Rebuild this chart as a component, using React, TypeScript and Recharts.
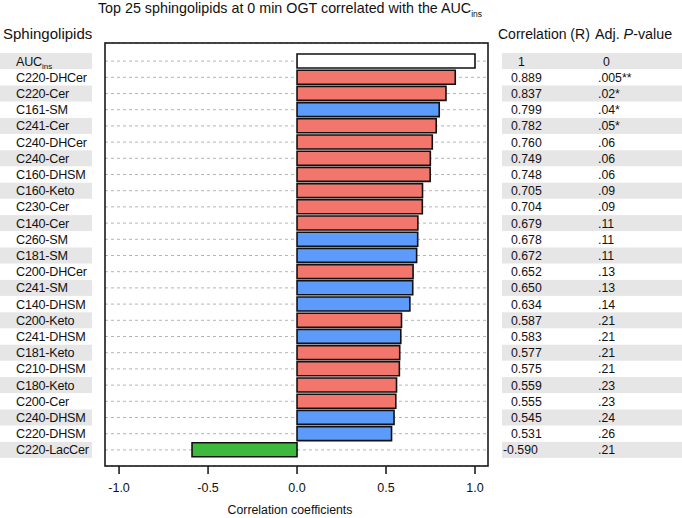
import React from "react";
import { BarChart, Bar, XAxis, YAxis, CartesianGrid, Cell } from "recharts";

const names = [
  "AUC_ins", "C220-DHCer", "C220-Cer", "C161-SM", "C241-Cer", "C240-DHCer", "C240-Cer",
  "C160-DHSM", "C160-Keto", "C230-Cer", "C140-Cer", "C260-SM", "C181-SM", "C200-DHCer",
  "C241-SM", "C140-DHSM", "C200-Keto", "C241-DHSM", "C181-Keto", "C210-DHSM", "C180-Keto",
  "C200-Cer", "C240-DHSM", "C220-DHSM", "C220-LacCer",
];
const values = [
  1, 0.889, 0.837, 0.799, 0.782, 0.76, 0.749, 0.748, 0.705, 0.704, 0.679, 0.678, 0.672,
  0.652, 0.65, 0.634, 0.587, 0.583, 0.577, 0.575, 0.559, 0.555, 0.545, 0.531, -0.59,
];
const rLabels = [
  "1", "0.889", "0.837", "0.799", "0.782", "0.760", "0.749", "0.748", "0.705", "0.704",
  "0.679", "0.678", "0.672", "0.652", "0.650", "0.634", "0.587", "0.583", "0.577", "0.575",
  "0.559", "0.555", "0.545", "0.531", "-0.590",
];
const pLabels = [
  "0", ".005**", ".02*", ".04*", ".05*", ".06", ".06", ".06", ".09", ".09", ".11", ".11",
  ".11", ".13", ".13", ".14", ".21", ".21", ".21", ".21", ".23", ".23", ".24", ".26", ".21",
];
const groups = [
  "ref", "cer", "cer", "sm", "cer", "cer", "cer", "cer", "cer", "cer", "cer", "sm", "sm",
  "cer", "sm", "sm", "cer", "sm", "cer", "cer", "cer", "cer", "sm", "sm", "lac",
];
const xTicks = [-1, -0.5, 0, 0.5, 1];

const COLORS: Record<string, string> = {
  ref: "#FFFFFF",
  cer: "#F2766B",
  sm: "#5C9BFA",
  lac: "#3DBA3D",
};
const FONT = "'Liberation Sans', Arial, Helvetica, sans-serif";
const SHADE = "#E6E6E6";

const data = names.map((n, i) => ({ name: n, value: values[i], group: groups[i] }));

const RowTick = (props: any) => {
  const { y, payload } = props;
  const i = names.indexOf(payload.value);
  const shade = i % 2 === 0;
  const [main, sub] = String(payload.value).split("_");
  const r = rLabels[i];
  const p = pLabels[i];
  const rx = r.startsWith("-") ? 503 : r === "1" ? 518 : 511;
  const px = p.startsWith(".") ? 598 : 603;
  return (
    <g fontFamily={FONT} fill="#111">
      {shade && <rect x={0} y={y - 8} width={92} height={16} fill={SHADE} />}
      {shade && <rect x={502} y={y - 8} width={180} height={16} fill={SHADE} />}
      <text x={16} y={y} dy="0.36em" fontSize={12.6} letterSpacing={-0.2} fill="#111">
        {main}
        {sub && (
          <tspan fontSize={8} dy="0.45em" letterSpacing={0}>
            {sub}
          </tspan>
        )}
      </text>
      <text x={rx} y={y} dy="0.36em" fontSize={12.3} fill="#111">
        {r}
      </text>
      <text x={px} y={y} dy="0.36em" fontSize={12.3} fill="#111">
        {p}
      </text>
    </g>
  );
};

export default function App() {
  return (
    <div style={{ position: "absolute", left: 0, top: 0, width: 682, height: 518, background: "#fff" }}>
      <BarChart
        width={682}
        height={518}
        data={data}
        layout="vertical"
        margin={{ top: 43, right: 194, bottom: 22, left: 5 }}
        barSize={14}
      >
        <CartesianGrid horizontal vertical={false} stroke="#B4B4B4" strokeDasharray="3 3" />
        <XAxis
          type="number"
          dataKey="value"
          domain={[-1.079, 1.073]}
          allowDataOverflow
          ticks={xTicks}
          tickFormatter={(v: number) => v.toFixed(1)}
          axisLine={false}
          tickLine={{ stroke: "#111", strokeWidth: 1.5 }}
          tickSize={8}
          tickMargin={9}
          height={30}
          tick={{ fontSize: 12.5, fill: "#111", fontFamily: FONT }}
        />
        <YAxis
          type="category"
          dataKey="name"
          width={100}
          axisLine={false}
          tickLine={false}
          interval={0}
          padding={{ top: 10, bottom: 8 }}
          tick={<RowTick />}
        />
        <Bar dataKey="value" stroke="#111" strokeWidth={1.6} isAnimationActive={false}>
          {data.map((d, i) => (
            <Cell key={i} fill={COLORS[d.group]} />
          ))}
        </Bar>
      </BarChart>
      <svg
        width={682}
        height={518}
        style={{ position: "absolute", left: 0, top: 0, pointerEvents: "none" }}
        fontFamily={FONT}
      >
        <rect x={105} y={43} width={383} height={423} fill="none" stroke="#1a1a1a" strokeWidth={1.6} />
        <text x={290} y={13} textAnchor="middle" fontSize={14.3} fill="#111">
          Top 25 sphingolipids at 0 min OGT correlated with the AUC
          <tspan fontSize={8.5} dy="0.45em">ins</tspan>
        </text>
        <text x={3} y={39} fontSize={15} fill="#111">Sphingolipids</text>
        <text x={498} y={39} fontSize={14} fill="#111">Correlation (R)</text>
        <text x={595} y={39} fontSize={14.3} fill="#111">
          Adj. <tspan fontStyle="italic">P</tspan>-value
        </text>
        <text x={290} y={514} textAnchor="middle" fontSize={12.3} fill="#111">
          Correlation coefficients
        </text>
      </svg>
    </div>
  );
}
